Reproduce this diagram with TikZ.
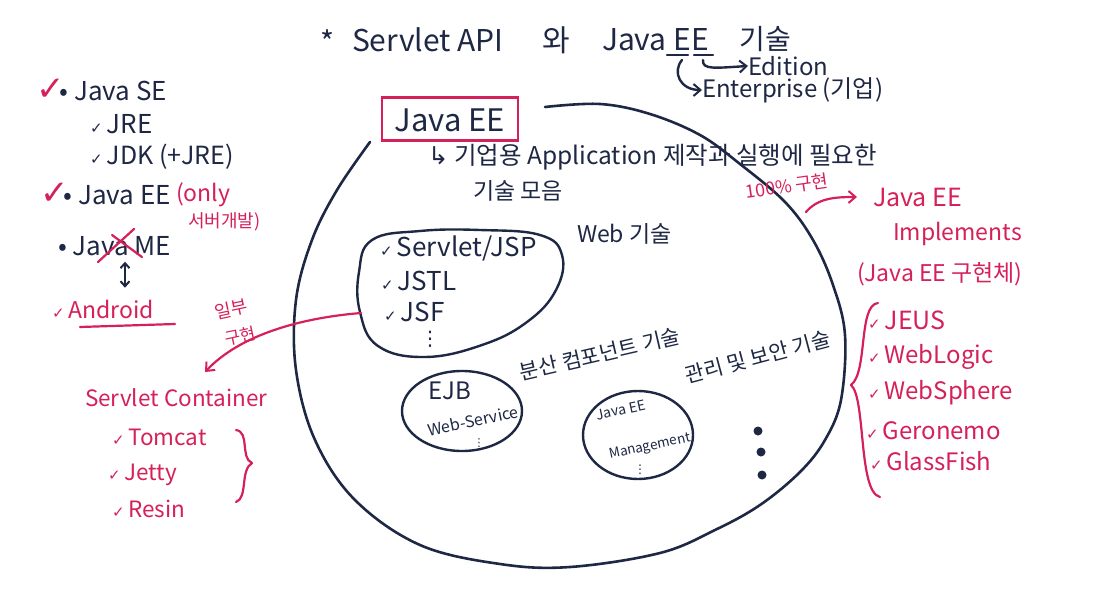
\documentclass[tikz,border=0pt]{standalone}
\usepackage{fontspec}
\setmainfont{Noto Sans CJK KR}
\newfontfamily\symf{DejaVu Sans}
\usetikzlibrary{shapes.geometric,arrows.meta,calc}
\definecolor{ink}{HTML}{1E2844}
\definecolor{pen}{HTML}{D6205A}
\newcommand{\ck}{{\symf\fontsize{15}{15}\selectfont ✓}\,}
\newcommand{\fs}[1]{\fontsize{#1}{#1}\selectfont}
\newcommand{\bigck}{{\symf\fs{34}\color{pen}✓}\hspace{-5pt}}
\begin{document}
\begin{tikzpicture}[x=1pt,y=-1pt,
  every node/.style={inner sep=0pt,outer sep=0pt},
  txt/.style={font=\fs{20},text=ink},
  rtxt/.style={font=\fs{20},text=pen},
  inkline/.style={draw=ink,line width=2.4pt,line cap=round,line join=round},
  penline/.style={draw=pen,line width=2.2pt,line cap=round,line join=round},
  blob/.style={ellipse,draw=ink,line width=2.4pt},
  barb/.style={-{Straight Barb[length=7pt,width=12pt,line width=2pt]}},
  dotn/.style={circle,fill=ink,minimum size=9pt}
]
\useasboundingbox (0,0) rectangle (1096,589);
\fill[white] (0,0) rectangle (1096,589);

% ---------- title ----------
\node[txt,font=\fs{30}] (star) at (328,42) {*};
\node[txt,font=\fs{30},anchor=west] (t1) at (352,40) {Servlet API};
\node[txt,font=\fs{30}] (t2) at (556,40) {와};
\node[txt,font=\fs{30},anchor=west] (t3) at (602,40) {Java EE};
\node[txt,font=\fs{28}] (t4) at (765,39) {기술};
\draw[inkline] (667,55) -- (688,55) (694,55) -- (713,55);
\node[txt,font=\fs{24},anchor=west] (edition) at (748,66) {Edition};
\node[txt,font=\fs{24},anchor=west] (enterprise) at (702,90) {Enterprise (기업)};
\draw[inkline,barb] (682,60) .. controls (672,72) and (680,90) .. (enterprise.west);
\draw[inkline,barb] (703,60) .. controls (702,70) and (715,68) .. (edition.west);

% ---------- left column ----------
\node[txt,font=\fs{26},anchor=west] (se) at (36,90) {\bigck• Java SE};
\node[txt,font=\fs{26},anchor=west] (jre) at (90,124) {\ck JRE};
\node[txt,font=\fs{25},anchor=west] (jdk) at (90,157) {\ck JDK (+JRE)};
\node[txt,font=\fs{26},anchor=west] (ee) at (40,194) {\bigck• Java EE};
\node[rtxt,font=\fs{23},anchor=west] (only) at (176,195) {(only};
\node[rtxt,font=\fs{18},anchor=west] (srv) at (188,222) {서버개발)};
\node[txt,font=\fs{26},anchor=west] (me) at (58,246) {• Java ME};
\draw[penline] (98,262) -- (134,229) (112,235) -- (142,257);
\node[rtxt,font=\fs{23},anchor=west] (android) at (52,309) {\ck Android};
\draw[penline] (80,327) -- (175,324);
\draw[draw=ink,line width=2pt,{Straight Barb[length=5pt,width=9pt]}-{Straight Barb[length=5pt,width=9pt]}] ($(me.south west)+(67,6)$) -- ($(android.north west)+(73,-12)$);

% ---------- servlet container ----------
\node[rtxt,font=\fs{22.5},anchor=west] (sc) at (85,398) {Servlet Container};
\node[rtxt,font=\fs{22.5},anchor=west] (tomcat) at (112,437) {\ck Tomcat};
\node[rtxt,font=\fs{22.5},anchor=west] (jetty) at (108,475) {\ck Jetty};
\node[rtxt,font=\fs{22.5},anchor=west] (resin) at (112,509) {\ck Resin};
\draw[penline] (236,430) .. controls (250,432) and (240,458) .. (252,463)
                        .. controls (240,470) and (248,498) .. (236,502);

% ---------- big circle ----------
\draw[inkline,line width=2.6pt] plot[smooth,tension=0.6] coordinates {(370,142) (337,190) (312,240) (296,300) (296,370) (315,440) (355,500) (420,545) (500,564) (570,567) (660,553) (715,530) (760,505) (800,472) (825,440) (841,400) (845,335) (833,285) (813,240) (785,202) (740,164) (700,135) (650,114) (600,104) (545,107)};
\coordinate (circ) at (806,212);

\node[draw=pen,line width=2.2pt,minimum width=136pt,minimum height=43pt] (jbox) at (450,119) {};
\node[font=\fs{31},text=ink] (jeetxt) at (450,120) {Java EE};
\node[txt,font=\fs{24.5},anchor=west] (desc) at (428,157) {{\symf ↳} 기업용 Application 제작과 실행에 필요한};
\node[txt,font=\fs{23},anchor=west] (desc2) at (473,191) {기술 모음};

% web technologies
\draw[inkline] plot[smooth cycle,tension=0.7] coordinates {(372,240) (420,231) (480,230) (540,235) (562,255) (556,290) (527,322) (482,345) (425,357) (378,346) (360,312) (359,272)};
\coordinate (web) at (361,313);
\node[txt,font=\fs{26},anchor=west] (servlet) at (380,248) {\ck Servlet/JSP};
\node[txt,font=\fs{26},anchor=west] (jstl) at (381,281) {\ck JSTL};
\node[txt,font=\fs{26},anchor=west] (jsf) at (384,312) {\ck JSF};
\node[txt,font=\symf\fs{20}] (vd1) at (430,339) {⋮};
\node[txt,font=\fs{23},anchor=west] (webt) at (577,234) {Web 기술};

% distributed
\node[txt,font=\fs{21},rotate=13] (dist) at (600,354) {분산 컴포넌트 기술};
\node[blob,minimum width=120pt,minimum height=80pt] (ejb) at (462,411) {};
\node[txt,font=\fs{24}] (ejbt) at (450,391) {EJB};
\node[font=\fs{16},text=ink,rotate=12] (ws) at (473,421) {Web-Service};
\node[font=\symf\fs{11},text=ink] (vd2) at (479,443) {⋮};

% management
\node[txt,font=\fs{21},rotate=15] (mgt) at (758,357) {관리 및 보안 기술};
\node[blob,minimum width=110pt,minimum height=88pt] (jm) at (638,435) {};
\node[font=\fs{14},text=ink,rotate=12] (jmt1) at (621,410) {Java EE};
\node[font=\fs{13.5},text=ink,rotate=12] (jmt2) at (650,447) {Management};
\node[font=\symf\fs{12},text=ink] (vd3) at (640,470) {⋮};

\node[dotn] (d1) at (758,431) {};
\node[dotn] (d2) at (761,452) {};
\node[dotn] (d3) at (762,475) {};

% ---------- 일부 구현 arrow ----------
\coordinate (scin) at (205,372);
\draw[penline,barb] (web) .. controls (300,318) and (240,335) .. (scin);
\node[rtxt,font=\fs{18},rotate=12] (part1) at (231,309) {일부};
\node[rtxt,font=\fs{17},rotate=12] (part2) at (240,336) {구현};

% ---------- implementations ----------
\node[rtxt,font=\fs{18},rotate=8] (full) at (787,186) {100\% 구현};
\node[rtxt,font=\fs{25},anchor=west] (impl) at (873,197) {Java EE};
\node[rtxt,font=\fs{23},anchor=west] (impl2) at (893,234) {Implements};
\node[rtxt,font=\fs{23},anchor=west] (impl3) at (857,274) {(Java EE 구현체)};
\draw[penline,barb] (circ) .. controls (818,198) and (835,197) .. ([xshift=-16pt]impl.west);
\draw[penline] (878,303) .. controls (858,305) and (868,372) .. (851,385)
                        .. controls (866,398) and (858,492) .. (880,497);
\node[rtxt,font=\fs{25},anchor=west] (jeus) at (868,320) {\ck JEUS};
\node[rtxt,font=\fs{24},anchor=west] (wl) at (868,357) {\ck WebLogic};
\node[rtxt,font=\fs{24},anchor=west] (wsp) at (868,393) {\ck WebSphere};
\node[rtxt,font=\fs{24},anchor=west] (ger) at (866,431) {\ck Geronemo};
\node[rtxt,font=\fs{24},anchor=west] (gf) at (870,461) {\ck GlassFish};
\end{tikzpicture}
\end{document}
